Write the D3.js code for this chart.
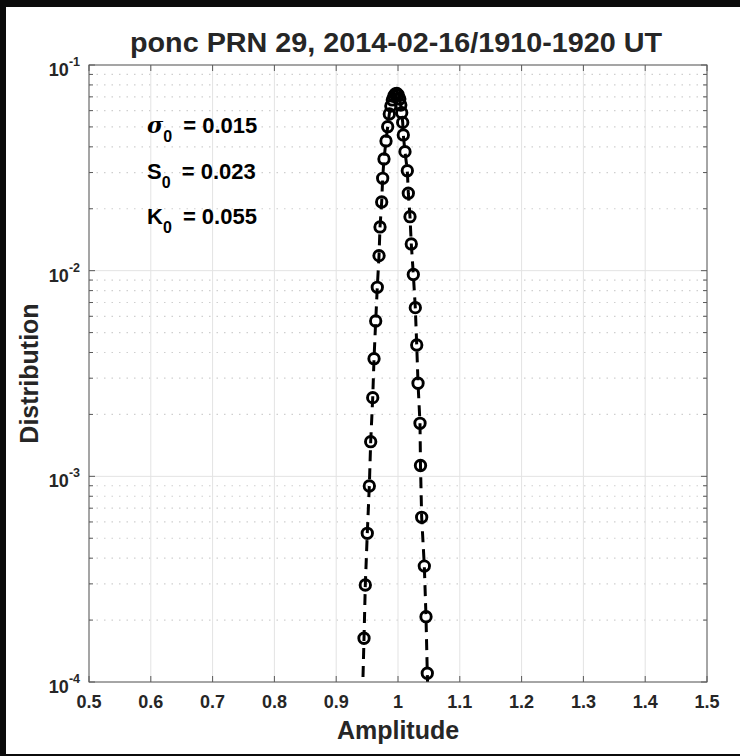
<!DOCTYPE html>
<html>
<head>
<meta charset="utf-8">
<script src="https://cdn.jsdelivr.net/npm/d3@7"></script>
<style>
  html, body { margin: 0; padding: 0; background: #0b0b0b; }
  svg { display: block; }
  text { font-family: "Liberation Sans", Arial, Helvetica, sans-serif; font-weight: bold; fill: #262626; }
</style>
</head>
<body>
<svg id="chart" width="740" height="756"></svg>
<script>
// Amplitude histogram, ponc PRN 29
const amplitude = [
  0.9426, 0.9450, 0.9471, 0.9503, 0.9536, 0.9558, 0.9591, 0.9612, 0.9639, 0.9665,
  0.9693, 0.9709, 0.9736, 0.9752, 0.9773, 0.9806, 0.9833, 0.9859,
  0.9884, 0.9908, 0.9932, 0.9956, 0.9981, 1.0005, 1.0029, 1.0045,
  1.0060, 1.0076, 1.0086, 1.0113, 1.0151, 1.0167, 1.0194, 1.0215, 1.0248, 1.0280,
  1.0303, 1.0324, 1.0356, 1.0364, 1.0383, 1.0426, 1.0453, 1.0474, 1.0499
];
const distribution = [
  8.64e-5, 1.632e-4, 2.962e-4, 5.284e-4, 8.974e-4, 1.474e-3, 2.413e-3, 3.733e-3, 5.692e-3, 8.30e-3,
  1.183e-2, 1.631e-2, 2.158e-2, 2.812e-2, 3.491e-2, 4.271e-2, 5.012e-2, 5.778e-2,
  6.32e-2, 6.76e-2, 7.07e-2, 7.23e-2, 7.27e-2, 7.15e-2, 6.83e-2, 6.39e-2,
  5.86e-2, 5.26e-2, 4.57e-2, 3.79e-2, 3.06e-2, 2.38e-2, 1.83e-2, 1.349e-2, 9.58e-3, 6.61e-3,
  4.35e-3, 2.835e-3, 1.811e-3, 1.129e-3, 6.32e-4, 3.66e-4, 2.077e-4, 1.103e-4, 6.0e-5
];

const xTicks = [0.5, 0.6, 0.7, 0.8, 0.9, 1.0, 1.1, 1.2, 1.3, 1.4, 1.5];
const xTickLabels = ["0.5", "0.6", "0.7", "0.8", "0.9", "1", "1.1", "1.2", "1.3", "1.4", "1.5"];
const yTickExponents = [-4, -3, -2, -1];

const statSymbols = ["σ", "S", "K"];
const statValues = ["0.015", "0.023", "0.055"];

const titleText = "ponc PRN 29, 2014-02-16/1910-1920 UT";
const xLabel = "Amplitude";
const yLabel = "Distribution";

const W = 740, H = 756;
const plot = { left: 89, right: 707, top: 65, bottom: 682 };

const svg = d3.select("#chart");

// figure background with dark frame
svg.append("rect").attr("width", W).attr("height", H).attr("fill", "#0b0b0b");
svg.append("rect").attr("x", 6).attr("y", 7).attr("width", W - 6).attr("height", 747).attr("fill", "#ffffff");

const x = d3.scaleLinear().domain([0.5, 1.5]).range([plot.left, plot.right]);
const y = d3.scaleLog().domain([1e-4, 1e-1]).range([plot.bottom, plot.top]);

// minor grid values (2..9 x 10^k)
const minorVals = [];
for (let e = -4; e < -1; e++) {
  for (let m = 2; m <= 9; m++) minorVals.push(m * Math.pow(10, e));
}
const majorVals = yTickExponents.map(e => Math.pow(10, e));

const grid = svg.append("g");
grid.selectAll("line.minor").data(minorVals).join("line")
  .attr("x1", plot.left).attr("x2", plot.right)
  .attr("y1", d => y(d)).attr("y2", d => y(d))
  .attr("stroke", "#cfcfcf").attr("stroke-width", 1.2)
  .attr("stroke-dasharray", "1.5,6");
grid.selectAll("line.majy").data(majorVals).join("line")
  .attr("x1", plot.left).attr("x2", plot.right)
  .attr("y1", d => y(d)).attr("y2", d => y(d))
  .attr("stroke", "#e3e3e3").attr("stroke-width", 1);
grid.selectAll("line.majx").data(xTicks).join("line")
  .attr("x1", d => x(d)).attr("x2", d => x(d))
  .attr("y1", plot.top).attr("y2", plot.bottom)
  .attr("stroke", "#e3e3e3").attr("stroke-width", 1);

// clip region for data
svg.append("clipPath").attr("id", "plotClip")
  .append("rect").attr("x", plot.left).attr("y", plot.top)
  .attr("width", plot.right - plot.left).attr("height", plot.bottom - plot.top);

const pts = amplitude.map((a, i) => [a, distribution[i]]);
const dataG = svg.append("g").attr("clip-path", "url(#plotClip)");

const line = d3.line().x(d => x(d[0])).y(d => y(d[1]));
dataG.append("path").datum(pts)
  .attr("d", line)
  .attr("fill", "none").attr("stroke", "#000").attr("stroke-width", 3)
  .attr("stroke-dasharray", "11,7");

dataG.selectAll("circle").data(pts).join("circle")
  .attr("cx", d => x(d[0])).attr("cy", d => y(d[1]))
  .attr("r", 5.2)
  .attr("fill", "none").attr("stroke", "#000").attr("stroke-width", 2.9);

// axes box and ticks
const axisColor = "#5a5a5a";
const axG = svg.append("g");
axG.append("rect").attr("x", plot.left).attr("y", plot.top)
  .attr("width", plot.right - plot.left).attr("height", plot.bottom - plot.top)
  .attr("fill", "none").attr("stroke", axisColor).attr("stroke-width", 1);

const tl = 6;
axG.selectAll("line.xtb").data(xTicks).join("line")
  .attr("x1", d => x(d)).attr("x2", d => x(d))
  .attr("y1", plot.bottom).attr("y2", plot.bottom - tl)
  .attr("stroke", axisColor);
axG.selectAll("line.xtt").data(xTicks).join("line")
  .attr("x1", d => x(d)).attr("x2", d => x(d))
  .attr("y1", plot.top).attr("y2", plot.top + tl)
  .attr("stroke", axisColor);
const allY = majorVals.concat(minorVals);
axG.selectAll("line.ytl").data(allY).join("line")
  .attr("x1", plot.left).attr("x2", d => plot.left + (majorVals.includes(d) ? tl : 4))
  .attr("y1", d => y(d)).attr("y2", d => y(d))
  .attr("stroke", axisColor);
axG.selectAll("line.ytr").data(allY).join("line")
  .attr("x1", plot.right).attr("x2", d => plot.right - (majorVals.includes(d) ? tl : 4))
  .attr("y1", d => y(d)).attr("y2", d => y(d))
  .attr("stroke", axisColor);

// x tick labels
svg.append("g").selectAll("text").data(xTicks).join("text")
  .attr("x", d => x(d)).attr("y", plot.bottom + 26)
  .attr("text-anchor", "middle").attr("font-size", 18)
  .text((d, i) => xTickLabels[i]);

// y tick labels: 10^k
const yl = svg.append("g").selectAll("text").data(yTickExponents).join("text")
  .attr("x", 80).attr("y", d => y(Math.pow(10, d)) + 11)
  .attr("text-anchor", "end").attr("font-size", 18);
yl.append("tspan").text("10");
yl.append("tspan").attr("dy", -10).attr("font-size", 12.5).text(d => "-" + Math.abs(d));

// axis titles
svg.append("text").attr("x", (plot.left + plot.right) / 2).attr("y", 739)
  .attr("text-anchor", "middle").attr("font-size", 25).text(xLabel);
svg.append("text")
  .attr("transform", `translate(38,${(plot.top + plot.bottom) / 2}) rotate(-90)`)
  .attr("text-anchor", "middle").attr("font-size", 25).text(yLabel);

// title
svg.append("text").attr("x", (plot.left + plot.right) / 2 - 2).attr("y", 52)
  .attr("text-anchor", "middle").attr("font-size", 27)
  .attr("textLength", 532).attr("lengthAdjust", "spacingAndGlyphs")
  .text(titleText);

// statistics annotations
const statG = svg.append("g");
statSymbols.forEach((s, i) => {
  const t = statG.append("text").attr("x", 147).attr("y", 133 + i * 45.5)
    .attr("font-size", 22).style("fill", "#000");
  t.append("tspan").attr("font-style", s === "σ" ? "italic" : "normal")
    .attr("font-family", s === "σ" ? "'DejaVu Serif', serif" : null).text(s);
  t.append("tspan").attr("dy", 9).attr("font-size", 16).text("0");
  t.append("tspan").attr("dy", -9).attr("dx", 5).text(" = " + statValues[i]);
});
</script>
</body>
</html>
